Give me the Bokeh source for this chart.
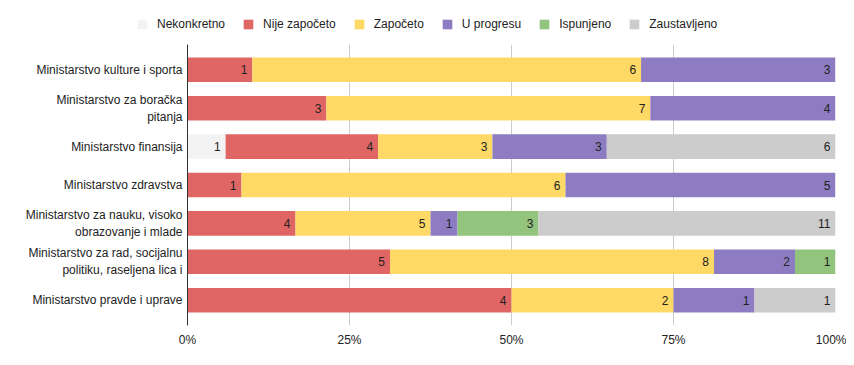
from bokeh.plotting import figure
from bokeh.layouts import column
from bokeh.models import (FactorRange, ColumnDataSource, Legend, LegendItem,
                          FixedTicker, NumeralTickFormatter, Range1d)
from bokeh.core.properties import value
from bokeh.embed import file_html
from bokeh.resources import INLINE

categories = [
    "Ministarstvo kulture i sporta",
    "Ministarstvo za boračka\npitanja",
    "Ministarstvo finansija",
    "Ministarstvo zdravstva",
    "Ministarstvo za nauku, visoko\nobrazovanje i mlade",
    "Ministarstvo za rad, socijalnu\npolitiku, raseljena lica i",
    "Ministarstvo pravde i uprave",
]
statuses = ["Nekonkretno", "Nije započeto", "Započeto", "U progresu", "Ispunjeno", "Zaustavljeno"]
nekonkretno = [0, 0, 1, 0, 0, 0, 0]
nije_zapoceto = [1, 3, 4, 1, 4, 5, 4]
zapoceto = [6, 7, 3, 6, 5, 8, 2]
u_progresu = [3, 4, 3, 5, 1, 2, 1]
ispunjeno = [0, 0, 0, 0, 3, 1, 0]
zaustavljeno = [0, 0, 6, 0, 11, 0, 1]
colors = ["#f3f3f3", "#e06666", "#ffd966", "#8e7cc3", "#93c47d", "#cccccc"]
x_ticks = [0, 0.25, 0.5, 0.75, 1.0]

series = [nekonkretno, nije_zapoceto, zapoceto, u_progresu, ispunjeno, zaustavljeno]
totals = [sum(s[i] for s in series) for i in range(len(categories))]

FONT = "Liberation Sans"
W = 846
LH = 36

# legend strip
lf = figure(width=W, height=LH, output_backend="svg", toolbar_location=None,
            x_range=Range1d(0, 1), y_range=Range1d(0, 1),
            x_axis_type=None, y_axis_type=None,
            min_border_left=0, min_border_right=0, min_border_top=0,
            min_border_bottom=0)
lf.frame_align = False
lf.outline_line_color = None
lf.xgrid.grid_line_color = None
lf.ygrid.grid_line_color = None
lf.background_fill_color = "white"
lf.border_fill_color = "white"

# main chart
p = figure(width=W, height=349 - LH, output_backend="svg", toolbar_location=None,
           x_range=Range1d(0, 1),
           y_range=FactorRange(factors=list(reversed(categories)),
                               range_padding=0.16, range_padding_units="absolute"),
           min_border_left=187, min_border_right=11, min_border_top=8,
           min_border_bottom=23)
p.frame_align = False
p.outline_line_color = None
p.background_fill_color = "white"
p.border_fill_color = "white"

cum = [0.0] * len(categories)
items = []
lab_x, lab_y, lab_t = [], [], []
for name, vals, col in zip(statuses, series, colors):
    left = [cum[i] for i in range(len(categories))]
    right = [cum[i] + vals[i] / totals[i] for i in range(len(categories))]
    src = ColumnDataSource(dict(y=categories, left=left, right=right))
    p.hbar(y="y", left="left", right="right", height=0.64, source=src,
           fill_color=col, line_color=None)
    # legend key renderer: one mark placed far outside the strip's visible range
    lr = lf.hbar(y=[100], left=[10], right=[11], height=0.5, fill_color=col, line_color=None)
    items.append(LegendItem(label=name, renderers=[lr]))
    for i in range(len(categories)):
        if vals[i] > 0:
            lab_x.append(right[i])
            lab_y.append(categories[i])
            lab_t.append(str(vals[i]))
    cum = right

lsrc = ColumnDataSource(dict(x=lab_x, y=lab_y, t=lab_t))
p.text(x="x", y="y", text="t", source=lsrc, x_offset=-5, text_align="right",
       text_baseline="middle", text_font=value(FONT), text_font_size="12px",
       text_color="#222222")

legend = Legend(items=items, orientation="horizontal", location=(136, 5),
                glyph_width=12, glyph_height=12, label_height=12,
                label_standoff=9, spacing=17, padding=0, margin=0,
                border_line_alpha=0, background_fill_alpha=0,
                label_text_font=FONT, label_text_font_size="12px",
                label_text_color="#222222")
lf.add_layout(legend)

p.xaxis.ticker = FixedTicker(ticks=x_ticks)
p.xaxis.formatter = NumeralTickFormatter(format="0%")
p.xaxis.axis_line_color = None
p.xaxis.major_tick_line_color = None
p.xaxis.minor_tick_line_color = None
p.xaxis.major_tick_out = 0
p.xaxis.major_tick_in = 0
p.xaxis.minor_tick_out = 0
p.xaxis.major_label_standoff = 7
p.xaxis.major_label_text_font = FONT
p.xaxis.major_label_text_font_size = "12px"
p.xaxis.major_label_text_color = "#222222"

p.yaxis.axis_line_color = "#333333"
p.yaxis.axis_line_width = 1
p.yaxis.major_tick_line_color = None
p.yaxis.minor_tick_line_color = None
p.yaxis.major_tick_out = 0
p.yaxis.major_tick_in = 0
p.yaxis.minor_tick_out = 0
p.yaxis.major_label_standoff = 5
p.yaxis.major_label_text_font = FONT
p.yaxis.major_label_text_font_size = "12px"
p.yaxis.major_label_text_color = "#222222"

p.xgrid.ticker = FixedTicker(ticks=x_ticks)
p.xgrid.grid_line_color = "#cccccc"
p.ygrid.grid_line_color = None

layout = column(lf, p, spacing=0)
open("out.html", "w").write(file_html(layout, INLINE))
